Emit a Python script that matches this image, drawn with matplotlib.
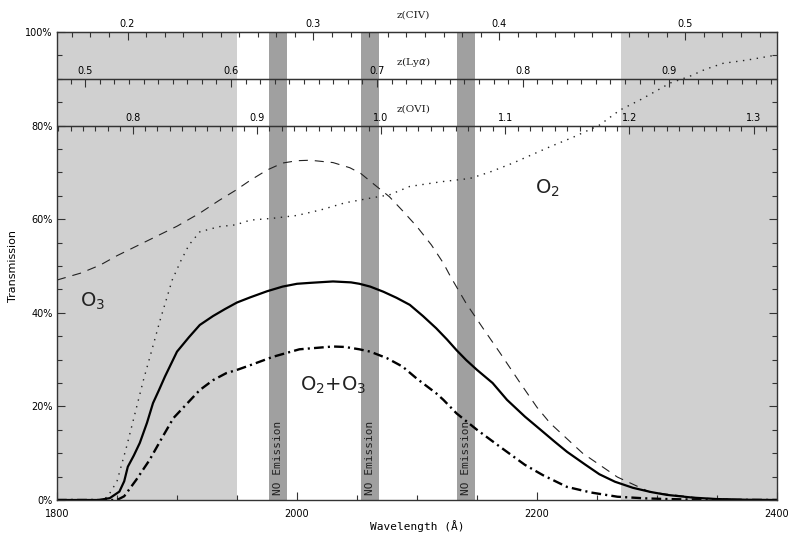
import matplotlib
matplotlib.use("Agg")
import matplotlib.pyplot as plt
import numpy as np
from matplotlib.ticker import MultipleLocator, FixedLocator, FormatStrFormatter, FuncFormatter

plt.rcParams['font.family'] = 'DejaVu Sans'
plt.rcParams['lines.scale_dashes'] = False

# transmission curves (wavelength in A, transmission in %)
wl_total = [1800, 1835, 1844, 1852, 1856, 1859, 1864, 1869, 1875, 1880, 1885, 1890, 1900,
            1910, 1919, 1930, 1940, 1950, 1961, 1975, 1988, 2000, 2011, 2030, 2045, 2052,
            2061, 2072, 2083, 2094, 2105, 2116, 2125, 2133, 2141, 2150, 2163, 2175, 2190,
            2203, 2215, 2225, 2240, 2252, 2265, 2280, 2295, 2308, 2330, 2350, 2375, 2400]
tr_total = [0, 0, 0.4, 1.8, 4.0, 7.1, 9.5, 12.2, 16.5, 20.7, 23.5, 26.4, 31.7,
            34.8, 37.4, 39.3, 40.8, 42.2, 43.3, 44.6, 45.6, 46.2, 46.4, 46.7, 46.5, 46.2,
            45.6, 44.5, 43.2, 41.7, 39.3, 36.7, 34.3, 32.0, 29.9, 27.8, 25.0, 21.4, 17.8,
            15.0, 12.4, 10.3, 7.6, 5.5, 3.9, 2.6, 1.7, 1.1, 0.5, 0.2, 0.05, 0]

wl_dash = [1800, 1820, 1836, 1850, 1877, 1900, 1919, 1935, 1949, 1961, 1975, 1988, 2000,
           2011, 2030, 2044, 2053, 2063, 2077, 2088, 2100, 2112, 2122, 2128, 2141, 2155,
           2169, 2186, 2200, 2211, 2238, 2267, 2294, 2336, 2370, 2400]
tr_dash = [47, 48.5, 50.2, 52.2, 55.6, 58.5, 61.3, 64.0, 66.2, 68.3, 70.5, 72.0, 72.5,
           72.6, 72.1, 71.0, 69.8, 67.7, 64.8, 61.8, 58.4, 54.5, 50.6, 47.7, 42.0, 36.7,
           31.5, 25.0, 19.8, 16.4, 10.0, 4.9, 1.7, 0.4, 0.1, 0]

wl_dot = [1800, 1835, 1842, 1850, 1858, 1865, 1872, 1879, 1886, 1896, 1903, 1910, 1919,
          1935, 1949, 1961, 1980, 2000, 2020, 2040, 2061, 2077, 2094, 2120, 2144, 2160,
          2180, 2211, 2230, 2252, 2269, 2286, 2300, 2311, 2327, 2340, 2355, 2375, 2400]
tr_dot = [0, 0, 0.6, 4.0, 11.4, 18.5, 25.6, 32.0, 38.5, 47.0, 51.0, 54.5, 57.3,
          58.4, 58.8, 59.8, 60.2, 60.8, 62.0, 63.5, 64.5, 65.2, 67.0, 68.0, 68.7, 70.0,
          72.0, 75.5, 77.5, 80.1, 83.3, 85.5, 87.5, 89.1, 90.5, 92.0, 93.3, 94.0, 95.1]

wl_dd = [1800, 1850, 1856, 1866, 1877, 1888, 1897, 1908, 1919, 1930, 1941, 1950, 1961,
         1980, 2002, 2030, 2040, 2052, 2061, 2075, 2088, 2100, 2116, 2122, 2133, 2150,
         2169, 2190, 2205, 2225, 2245, 2267, 2290, 2308, 2340, 2400]
tr_dd = [0, 0, 0.8, 4.3, 8.5, 13.5, 17.5, 20.5, 23.5, 25.6, 27.1, 27.8, 28.8,
         30.6, 32.2, 32.8, 32.7, 32.2, 31.7, 30.3, 28.5, 25.9, 22.8, 21.4, 18.5, 15.0,
         11.4, 7.5, 5.3, 2.8, 1.6, 0.7, 0.35, 0.2, 0.05, 0]

gray_zones = [(1800, 1950), (2270, 2400)]
no_bands = [(1977, 1992), (2053, 2068), (2133, 2148)]

# rest wavelengths and labelled redshifts for the top scales
rest_civ = 1549.0
rest_lya = 1215.67
rest_ovi = 1035.0
z_civ = [0.2, 0.3, 0.4, 0.5]
z_lya = [0.5, 0.6, 0.7, 0.8, 0.9]
z_ovi = [0.8, 0.9, 1.0, 1.1, 1.2, 1.3]

fig = plt.figure(figsize=(7.88, 5.34), dpi=100)
ax = fig.add_axes([57/788, 1 - 500/534, 720/788, 468/534])

for a, b in gray_zones:
    ax.axvspan(a, b, color='#d0d0d0', lw=0, zorder=0)
for a, b in no_bands:
    ax.axvspan(a, b, color='#a0a0a0', lw=0, zorder=0.5)
    ax.text((a + b) / 2, 1.0, 'NO Emission', rotation=90, ha='center', va='bottom',
            fontsize=8, family='DejaVu Sans Mono', color='#222222')

ax.plot(wl_dot, tr_dot, color='#222222', lw=1.0, dashes=(1, 4))
ax.plot(wl_dash, tr_dash, color='#222222', lw=0.8, dashes=(6.5, 5))
ax.plot(wl_total, tr_total, color='black', lw=1.6)
ax.plot(wl_dd, tr_dd, color='black', lw=1.7, dashes=(7, 3, 1.5, 3))

# separators of the redshift scales
ax.axhline(80, color='#333333', lw=1.0)
ax.axhline(90, color='#333333', lw=1.0)

ax.set_xlim(1800, 2400)
ax.set_ylim(0, 100)
ax.xaxis.set_major_locator(MultipleLocator(200))
ax.xaxis.set_minor_locator(MultipleLocator(50))
ax.yaxis.set_major_locator(MultipleLocator(20))
ax.yaxis.set_minor_locator(MultipleLocator(5))
ax.yaxis.set_major_formatter(FuncFormatter(lambda v, p: '%d%%' % v))
ax.tick_params(which='both', direction='in', right=True, top=False, labelsize=7,
               color='#333333', width=0.8)
ax.tick_params(which='major', length=6)
ax.tick_params(which='minor', length=3.5)
ax.tick_params(axis='x', pad=6.5)
ax.tick_params(axis='y', pad=3)
for s in ax.spines.values():
    s.set_color('#333333')
    s.set_linewidth(1.0)

for loc, rest, zt in [(1.0, rest_civ, z_civ), (0.9, rest_lya, z_lya), (0.8, rest_ovi, z_ovi)]:
    sec = ax.secondary_xaxis(loc, functions=(lambda x, r=rest: x / r - 1,
                                             lambda z, r=rest: r * (1 + z)))
    sec.set_zorder(5)
    sec.xaxis.set_major_locator(FixedLocator(zt))
    sec.xaxis.set_minor_locator(MultipleLocator(0.01))
    sec.xaxis.set_major_formatter(FormatStrFormatter('%.1f'))
    sec.tick_params(which='both', direction='in', labelsize=7, color='#333333',
                    width=0.8, pad=2)
    sec.tick_params(which='major', length=6)
    sec.tick_params(which='minor', length=3.5)
    sec.spines['top'].set_color('#333333')

for yy, lab in [(103.7, 'z(CIV)'), (93.6, r'z(Ly$\alpha$)'), (83.6, 'z(OVI)')]:
    ax.text(0.495, yy, lab, transform=ax.get_yaxis_transform(), ha='center', va='center',
            fontsize=7.5, family='DejaVu Serif', color='#222222', clip_on=False)

ax.text(1830, 42.5, r'O$_3$', fontsize=14, ha='center', va='center', color='#222222')
ax.text(2209, 66.5, r'O$_2$', fontsize=14, ha='center', va='center', color='#222222')
ax.text(2030, 24.5, r'O$_2$+O$_3$', fontsize=14, ha='center', va='center', color='#222222')

ax.set_xlabel('Wavelength (Å)', fontsize=8, family='DejaVu Sans Mono', labelpad=1)
ax.set_ylabel('Transmission', fontsize=8, labelpad=5)

fig.savefig('out.png', dpi=100)
